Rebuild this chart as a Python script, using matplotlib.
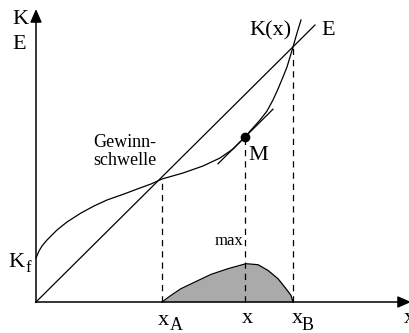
import matplotlib
matplotlib.use("Agg")
import matplotlib.pyplot as plt
import numpy as np

plt.rcParams['font.family'] = ['Liberation Serif', 'DejaVu Serif']

# cost curve K(x): quantity / cost pairs
k_q = [0, 3, 6, 11, 16, 21, 31, 45, 58, 71, 88, 104, 115, 126, 147, 167, 184, 197, 209,
       216, 224, 231, 237, 242, 247, 251, 254, 257, 261, 265]
k_v = [44, 51, 56, 62, 67, 72, 80, 89, 96, 102, 108, 114, 118, 123, 129, 136, 144, 153, 165,
       173, 182, 191, 202, 213, 225, 235, 245, 255, 269, 282]

# revenue line E(x)
e_q = [0, 279]
e_v = [0, 277]

# profit region between break-even points
g_q = [126, 135, 145, 159, 175, 192, 210, 222, 232, 242, 250, 255, 257]
g_v = [0, 6.6, 13.3, 20, 27.6, 33.3, 38.3, 37.3, 31.6, 23.3, 13.3, 6.6, 0]

# marked quantities
x_A, x_M, x_B = 126, 209, 257
K_M = 165
tangent_q = [182, 237]

fig = plt.figure(figsize=(4.09, 3.33), dpi=100)
ax = fig.add_axes([0, 0, 1, 1])
ax.set_xlim(-36, 373)
ax.set_ylim(-31, 302)
ax.axis('off')

lw = 0.9
ax.plot(k_q, k_v, color='black', lw=lw, solid_joinstyle='round')
ax.plot(e_q, e_v, color='black', lw=lw)
ax.fill_between(g_q, g_v, 0, color='#aaaaaa', lw=0)
ax.plot(g_q, g_v, color='black', lw=lw, solid_joinstyle='round')

# tangent at M, parallel to E
slope = (e_v[1] - e_v[0]) / (e_q[1] - e_q[0])
tq = np.array(tangent_q)
ax.plot(tq, K_M + slope * (tq - x_M), color='black', lw=lw)
ax.plot([x_M], [K_M], 'o', color='black', ms=6)

# dashed verticals
k_at = dict(zip(k_q, k_v))
for q in (x_A, x_M, x_B):
    ax.plot([q, q], [0, k_at[q]], color='black', lw=lw, linestyle=(0, (5, 4)))

# axes with arrows
arrow = dict(arrowstyle='-|>,head_length=0.8,head_width=0.35', color='black', lw=1.1,
             shrinkA=0, shrinkB=0)
ax.annotate('', xy=(0, 293), xytext=(0, -0.5), arrowprops=arrow, annotation_clip=False)
ax.annotate('', xy=(375, 0), xytext=(-0.5, 0), arrowprops=arrow, annotation_clip=False)

big = 16
ax.text(-24, 278, 'K', fontsize=big, va='baseline')
ax.text(-24, 253, 'E', fontsize=big, va='baseline')
ax.text(-28, 35, 'K', fontsize=big, va='baseline')
ax.text(-11, 30, 'f', fontsize=12, va='baseline')
ax.text(213, 267, 'K(x)', fontsize=big, va='baseline')
ax.text(285, 267, 'E', fontsize=big, va='baseline')
ax.text(212, 142, 'M', fontsize=big, va='baseline')
ax.text(57, 155, 'Gewinn-', fontsize=13, va='baseline')
ax.text(57, 137, 'schwelle', fontsize=13, va='baseline')
ax.text(179, 57, 'max', fontsize=12, va='baseline')

ax.text(122, -23, 'x', fontsize=big, va='baseline')
ax.text(134, -28, 'A', fontsize=13, va='baseline')
ax.text(206, -21, 'x', fontsize=big, va='baseline')
ax.text(256, -21, 'x', fontsize=big, va='baseline')
ax.text(266, -28, 'B', fontsize=13, va='baseline')
ax.text(368, -21, 'x', fontsize=big, va='baseline')

fig.savefig('out.png', dpi=100)
